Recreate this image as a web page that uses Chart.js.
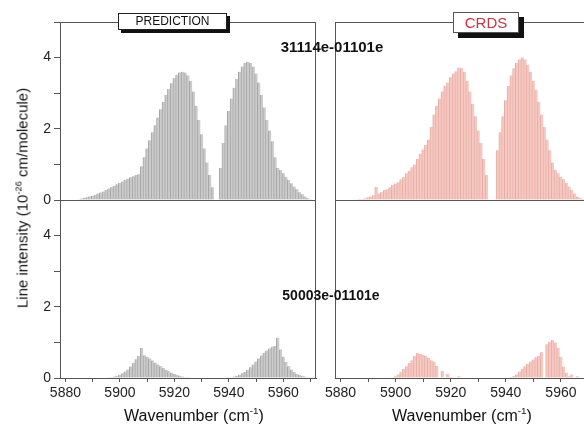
<!DOCTYPE html>
<html>
<head>
<meta charset="utf-8">
<script src="https://cdn.jsdelivr.net/npm/chart.js@4.4.1/dist/chart.umd.min.js"></script>
<style>
  html, body { margin: 0; padding: 0; background: #fff; overflow: hidden; width: 584px; height: 426px; }
  body { position: relative; font-family: "Liberation Sans", Arial, sans-serif; color: #111; }
  canvas { position: absolute; top: 0; }
  .lbl { position: absolute; transform: translate(-50%, -50%); white-space: nowrap; }
  sup { font-size: 62%; }
</style>
</head>
<body>
<canvas id="leftCol" width="320" height="426" style="left:0"></canvas>
<canvas id="rightCol" width="280" height="426" style="left:320px"></canvas>

<div class="lbl" style="left:22px; top:198px; transform: translate(-50%,-50%) rotate(-90deg); font-size:15px;">Line intensity (10<sup>-26</sup> cm/molecule)</div>
<div class="lbl" style="left:194px; top:415px; font-size:16px;">Wavenumber (cm<sup>-1</sup>)</div>
<div class="lbl" style="left:462px; top:415px; font-size:16px;">Wavenumber (cm<sup>-1</sup>)</div>
<div style="position:absolute; left:118px; top:13px; width:107px; height:15px; border:1px solid #222; background:#fff; box-shadow:3px 3px 0 #111; font-size:12px; line-height:15px; text-align:center;">PREDICTION</div>
<div style="position:absolute; left:453px; top:12px; width:64px; height:19px; border:1px solid #555; background:#fff; box-shadow:5px 5px 0 #111; font-size:15px; line-height:19px; text-align:center; color:#c8353d;">CRDS</div>
<div class="lbl" style="left:332px; top:46px; font-size:15px; font-weight:bold;">31114e-01101e</div>
<div class="lbl" style="left:331px; top:295px; font-size:14px; font-weight:bold;">50003e-01101e</div>

<script>
// x positions of the lines (cm-1) and intensities (1e-26 cm/molecule)
const topWn = [5884, 5885, 5886, 5887, 5888, 5889, 5890, 5891, 5892, 5893,
  5894, 5895, 5896, 5897, 5898, 5899, 5900, 5901, 5902, 5903,
  5904, 5905, 5906, 5907, 5908, 5909, 5910, 5911, 5912, 5913,
  5914, 5915, 5916, 5917, 5918, 5919, 5920, 5921, 5922, 5923,
  5924, 5925, 5926, 5927, 5928, 5929, 5930, 5931, 5932, 5933,
  5934, 5935, 5936, 5937, 5938, 5939, 5940, 5941, 5942, 5943,
  5944, 5945, 5946, 5947, 5948, 5949, 5950, 5951, 5952, 5953,
  5954, 5955, 5956, 5957, 5958, 5959, 5960, 5961, 5962, 5963,
  5964, 5965, 5966, 5967, 5968, 5969, 5970];

// 31114e-01101e, prediction
const predTop = [0.00, 0.02, 0.04, 0.06, 0.08, 0.10, 0.12, 0.15, 0.18, 0.21,
  0.24, 0.28, 0.32, 0.36, 0.40, 0.44, 0.48, 0.52, 0.56, 0.60,
  0.64, 0.67, 0.70, 0.72, 0.95, 1.20, 1.45, 1.68, 1.90, 2.10,
  2.32, 2.55, 2.75, 2.95, 3.12, 3.28, 3.42, 3.52, 3.58, 3.60,
  3.58, 3.50, 3.35, 3.05, 2.65, 2.25, 1.85, 1.45, 1.05, 0.70,
  0.36, 0.00, 0.00, 0.90, 1.60, 2.10, 2.50, 2.85, 3.15, 3.40,
  3.60, 3.75, 3.85, 3.88, 3.85, 3.75, 3.55, 3.30, 2.95, 2.60,
  2.25, 1.95, 1.65, 1.20, 0.90, 0.84, 0.75, 0.65, 0.56, 0.47,
  0.38, 0.30, 0.22, 0.16, 0.10, 0.05, 0.02];

// 31114e-01101e, CRDS
const crdsTop = [0.00, 0.01, 0.02, 0.03, 0.03, 0.05, 0.08, 0.10, 0.13, 0.37,
  0.18, 0.22, 0.28, 0.30, 0.36, 0.42, 0.46, 0.50, 0.58, 0.64,
  0.75, 0.82, 0.92, 1.00, 1.15, 1.30, 1.42, 1.55, 1.70, 2.05,
  2.40, 2.65, 2.85, 3.05, 3.20, 3.30, 3.45, 3.55, 3.62, 3.72,
  3.70, 3.60, 3.35, 3.05, 2.70, 2.35, 1.95, 1.60, 1.15, 0.70,
  0.00, 0.00, 0.00, 1.40, 1.90, 2.35, 2.80, 3.20, 3.50, 3.70,
  3.85, 3.95, 4.00, 3.95, 3.80, 3.60, 3.35, 3.10, 2.75, 2.40,
  2.05, 1.70, 1.40, 1.05, 0.85, 0.75, 0.65, 0.58, 0.48, 0.38,
  0.28, 0.18, 0.10, 0.06, 0.03, 0.02, 0.01];

// 50003e-01101e, prediction
const predBotWn = [5896, 5897, 5898, 5899, 5900, 5901, 5902, 5903, 5904, 5905,
  5906, 5907, 5908, 5909, 5910, 5911, 5912, 5913, 5914, 5915,
  5916, 5917, 5918, 5919, 5920, 5921, 5922, 5923, 5924, 5925,
  5940, 5941, 5942, 5943, 5944, 5945, 5946, 5947, 5948, 5949,
  5950, 5951, 5952, 5953, 5954, 5955, 5956, 5957, 5958, 5959,
  5960, 5961, 5962, 5963, 5964, 5965, 5966, 5967, 5968, 5969, 5970];
const predBot = [0.01, 0.02, 0.04, 0.06, 0.09, 0.13, 0.18, 0.24, 0.32, 0.42,
  0.53, 0.62, 0.85, 0.64, 0.60, 0.55, 0.49, 0.43, 0.38, 0.33,
  0.28, 0.23, 0.19, 0.15, 0.12, 0.09, 0.06, 0.04, 0.02, 0.01,
  0.01, 0.02, 0.04, 0.06, 0.09, 0.13, 0.17, 0.23, 0.30, 0.38,
  0.46, 0.55, 0.63, 0.71, 0.77, 0.83, 0.88, 0.90, 1.13, 0.80,
  0.60, 0.45, 0.33, 0.24, 0.17, 0.12, 0.09, 0.06, 0.04, 0.02, 0.01];

// 50003e-01101e, CRDS
const crdsBotWn = [5899, 5900, 5901, 5902, 5903, 5904, 5905, 5906, 5907, 5908,
  5909, 5910, 5911, 5912, 5913, 5914, 5915, 5916, 5917, 5918,
  5919, 5920, 5921, 5922, 5923,
  5942, 5943, 5944, 5945, 5946, 5947, 5948, 5949, 5950, 5951,
  5952, 5953, 5954, 5955, 5956, 5957, 5958, 5959, 5960, 5961,
  5962, 5963, 5964, 5965, 5966];
const crdsBot = [0.02, 0.05, 0.10, 0.16, 0.25, 0.33, 0.42, 0.50, 0.62, 0.70,
  0.68, 0.65, 0.62, 0.57, 0.50, 0.46, 0.34, 0.00, 0.20, 0.00,
  0.12, 0.03, 0.00, 0.00, 0.05,
  0.03, 0.06, 0.10, 0.18, 0.26, 0.33, 0.40, 0.46, 0.52, 0.58,
  0.62, 0.72, 0.00, 0.95, 1.02, 1.07, 1.00, 0.85, 0.60, 0.32,
  0.15, 0.05, 0.10, 0.00, 0.05];

const xMin = 5878, xMax = 5972;
const axisColor = '#555';
const tickFont = { family: 'Liberation Sans, Arial, sans-serif', size: 14 };

function pts(wn, vals) {
  return wn.map((w, i) => ({ x: w, y: vals[i] }));
}

// draws the panel frame: top line, right line and the line between the panels
const framePlugin = {
  id: 'frame',
  afterDraw(chart) {
    const a = chart.chartArea;
    const ctx = chart.ctx;
    const mid = chart.scales.yTop.getPixelForValue(0);
    ctx.save();
    ctx.strokeStyle = axisColor;
    ctx.lineWidth = 1;
    ctx.beginPath();
    ctx.moveTo(a.left, a.top + 0.5);
    ctx.lineTo(a.right, a.top + 0.5);
    ctx.moveTo(a.right - 0.5, a.top);
    ctx.lineTo(a.right - 0.5, a.bottom);
    ctx.moveTo(a.left, Math.round(mid) + 0.5);
    ctx.lineTo(a.right, Math.round(mid) + 0.5);
    ctx.stroke();
    ctx.restore();
  }
};

function makeColumn(id, topData, botData, fill, line, showY, yWidth, padRight) {
  const yAxis = () => ({
    type: 'linear',
    position: 'left',
    stack: 'col',
    min: 0,
    max: 5,
    grid: { drawOnChartArea: false, drawTicks: showY, tickLength: 6, tickColor: axisColor },
    border: { color: axisColor },
    ticks: {
      display: showY,
      stepSize: 1,
      color: '#222',
      font: tickFont,
      padding: 3,
      callback: v => (v % 2 === 0 && v < 5) ? v : ''
    },
    afterFit: s => { s.width = yWidth; }
  });

  const bars = (data, axis) => ({
    data: data,
    yAxisID: axis,
    backgroundColor: fill,
    borderColor: line,
    borderWidth: { left: 1, top: 0, right: 0, bottom: 0 },
    borderSkipped: false,
    barThickness: 3,
    grouped: false
  });

  return new Chart(document.getElementById(id), {
    type: 'bar',
    data: {
      datasets: [bars(botData, 'yBot'), bars(topData, 'yTop')]
    },
    options: {
      responsive: false,
      devicePixelRatio: 1,
      animation: false,
      layout: { padding: { top: 22, right: padRight, left: 0, bottom: 0 } },
      plugins: { legend: { display: false }, tooltip: { enabled: false } },
      scales: {
        x: {
          type: 'linear',
          min: xMin,
          max: xMax,
          offset: false,
          grid: { offset: false, drawOnChartArea: false, tickLength: 4, tickColor: axisColor },
          border: { color: axisColor },
          ticks: {
            stepSize: 10,
            includeBounds: false,
            autoSkip: false,
            maxRotation: 0,
            color: '#222',
            font: tickFont,
            padding: 3,
            callback: v => v % 20 === 0 ? v : ''
          },
          afterFit: s => { s.height = 48; }
        },
        yBot: yAxis(),
        yTop: yAxis()
      }
    },
    plugins: [framePlugin]
  });
}

makeColumn('leftCol', pts(topWn, predTop), pts(predBotWn, predBot),
  '#cbcbcb', '#a4a4a4', true, 60, 4);
makeColumn('rightCol', pts(topWn, crdsTop), pts(crdsBotWn, crdsBot),
  '#f5c9c2', '#e8aca3', false, 15, 6);
</script>
</body>
</html>
